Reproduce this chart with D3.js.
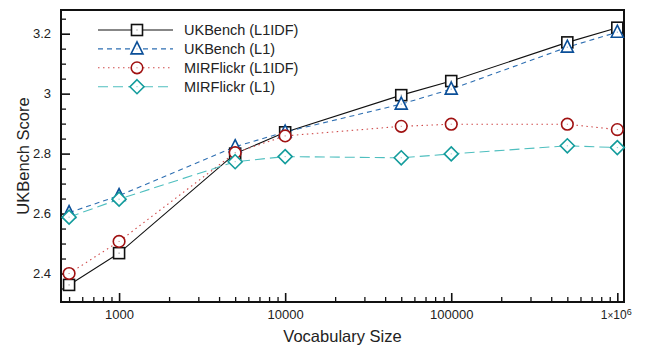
<!DOCTYPE html>
<html>
<head>
<meta charset="utf-8">
<script src="https://cdn.jsdelivr.net/npm/d3@7"></script>
<style>
  body { margin: 0; background: #fff; }
  svg text { font-family: "Liberation Sans", Arial, Helvetica, sans-serif; fill: #222; }
</style>
</head>
<body>
<svg id="chart" width="656" height="347"></svg>
<script>
// vocabulary sizes (x) and scores for each run
var vocabSizes = [500, 1000, 5000, 10000, 50000, 100000, 500000, 1000000];
var ukbenchL1IDF = [2.362, 2.468, 2.800, 2.871, 2.995, 3.042, 3.171, 3.220];
var ukbenchL1 = [2.603, 2.660, 2.823, 2.872, 2.965, 3.015, 3.155, 3.205];
var mirflickrL1IDF = [2.400, 2.507, 2.803, 2.859, 2.891, 2.898, 2.898, 2.880];
var mirflickrL1 = [2.588, 2.648, 2.773, 2.790, 2.786, 2.799, 2.826, 2.820];
var xTickLabels = ["1000", "10000", "100000", "1x10^6"];
var yTicks = [2.4, 2.6, 2.8, 3, 3.2];

var series = [
  {name: "UKBench (L1IDF)", values: ukbenchL1IDF, line: "#111", mark: "#111", dash: null, shape: "square"},
  {name: "UKBench (L1)", values: ukbenchL1, line: "#2e6fb2", mark: "#0b4f98", dash: "5,4", shape: "triangle"},
  {name: "MIRFlickr (L1IDF)", values: mirflickrL1IDF, line: "#cf4b4b", mark: "#a01212", dash: "1.5,3.5", shape: "circle"},
  {name: "MIRFlickr (L1)", values: mirflickrL1, line: "#4fbfbf", mark: "#139c9c", dash: "10,5", shape: "diamond"}
];

var margin = {top: 10, right: 32, bottom: 45, left: 61};
var width = 656 - margin.left - margin.right;
var height = 347 - margin.top - margin.bottom;

var svg = d3.select("#chart");
var g = svg.append("g").attr("transform", "translate(" + margin.left + "," + margin.top + ")");

var x = d3.scaleLog().domain([447, 1097000]).range([0, width]);
var y = d3.scaleLinear().domain([2.305, 3.279]).range([height, 0]);

// minor / major ticks on x (pointing inward)
var xMinor = [];
for (var e = 2; e <= 5; e++) {
  for (var m = 1; m <= 9; m++) {
    var v = m * Math.pow(10, e);
    if (v >= 500 && v <= 1000000) xMinor.push(v);
  }
}
var xMajor = [1000, 10000, 100000, 1000000];

g.append("g")
  .attr("transform", "translate(0," + height + ")")
  .call(d3.axisBottom(x).tickValues(xMinor.filter(function(d) { return xMajor.indexOf(d) < 0; }))
    .tickSize(-5).tickFormat(""))
  .call(function(s) { s.select(".domain").remove(); s.selectAll("line").attr("stroke", "#111").attr("stroke-width", 1.3); });

var xAxis = g.append("g")
  .attr("transform", "translate(0," + height + ")")
  .call(d3.axisBottom(x).tickValues(xMajor).tickSize(-9).tickFormat(""))
  .call(function(s) { s.select(".domain").remove(); s.selectAll("line").attr("stroke", "#111").attr("stroke-width", 1.6); });

xAxis.selectAll(".tick").each(function(d, i) {
  var t = d3.select(this).append("text")
    .attr("y", 8)
    .attr("dy", "0.71em")
    .attr("text-anchor", "middle")
    .style("font-size", "13px");
  var lab = xTickLabels[i];
  if (lab.indexOf("^") >= 0) {
    var parts = lab.split("^");
    t.attr("text-anchor", "start").attr("x", -17);
    t.append("tspan").text("1").style("font-size", "12px");
    t.append("tspan").text("\u00d7").style("font-size", "10px");
    t.append("tspan").text("10").style("font-size", "12px");
    t.append("tspan").text(parts[1]).attr("dy", "-0.45em").style("font-size", "9px");
  } else {
    t.text(lab);
  }
});

// y ticks
var yMinor = d3.range(2.35, 3.28, 0.05).filter(function(d) {
  return yTicks.every(function(t) { return Math.abs(t - d) > 0.01; });
});
g.append("g")
  .call(d3.axisLeft(y).tickValues(yMinor).tickSize(-5).tickFormat(""))
  .call(function(s) { s.select(".domain").remove(); s.selectAll("line").attr("stroke", "#111").attr("stroke-width", 1.3); });

g.append("g")
  .call(d3.axisLeft(y).tickValues(yTicks).tickSize(-9).tickPadding(10).tickFormat(d3.format("~g")))
  .call(function(s) {
    s.select(".domain").remove();
    s.selectAll("line").attr("stroke", "#111").attr("stroke-width", 1.6);
    s.selectAll("text").style("font-size", "13px").attr("fill", "#222");
  });

// frame
g.append("rect")
  .attr("width", width).attr("height", height)
  .attr("fill", "none").attr("stroke", "#111").attr("stroke-width", 2);

// axis titles
svg.append("text")
  .attr("x", margin.left + width / 2)
  .attr("y", 342)
  .attr("text-anchor", "middle")
  .style("font-size", "16.5px")
  .text("Vocabulary Size");

svg.append("text")
  .attr("transform", "translate(29," + (margin.top + height / 2) + ") rotate(-90)")
  .attr("text-anchor", "middle")
  .style("font-size", "16.5px")
  .text("UKBench Score");

function drawMarker(sel, shape, color, cx, cy) {
  var mk;
  if (shape === "square") {
    mk = sel.append("rect").attr("x", cx - 5.5).attr("y", cy - 5.5).attr("width", 11).attr("height", 11);
  } else if (shape === "circle") {
    mk = sel.append("circle").attr("cx", cx).attr("cy", cy).attr("r", 5.8);
  } else if (shape === "triangle") {
    mk = sel.append("path").attr("d", "M" + cx + "," + (cy - 7) + "L" + (cx + 6) + "," + (cy + 5) + "L" + (cx - 6) + "," + (cy + 5) + "Z");
  } else {
    mk = sel.append("path").attr("d", "M" + cx + "," + (cy - 7) + "L" + (cx + 7) + "," + cy + "L" + cx + "," + (cy + 7) + "L" + (cx - 7) + "," + cy + "Z");
  }
  mk.attr("fill", "#fff").attr("stroke", color).attr("stroke-width", 1.6);
  sel.append("rect").attr("x", cx - 0.5).attr("y", cy - 0.5).attr("width", 1).attr("height", 1).attr("fill", color).attr("opacity", 0.6);
}

var line = d3.line()
  .x(function(d, i) { return x(vocabSizes[i]); })
  .y(function(d) { return y(d); });

series.forEach(function(s) {
  g.append("path")
    .datum(s.values)
    .attr("fill", "none")
    .attr("stroke", s.line)
    .attr("stroke-width", 1.1)
    .attr("stroke-dasharray", s.dash)
    .attr("d", line);
});

series.forEach(function(s) {
  var mg = g.append("g");
  s.values.forEach(function(v, i) {
    drawMarker(mg, s.shape, s.mark, x(vocabSizes[i]), y(v));
  });
});

// legend
var legend = svg.append("g");
series.forEach(function(s, i) {
  var ly = 30 + i * 18.9;
  legend.append("line")
    .attr("x1", 98).attr("x2", 173).attr("y1", ly).attr("y2", ly)
    .attr("stroke", s.line).attr("stroke-width", 1.1)
    .attr("stroke-dasharray", s.dash);
  drawMarker(legend, s.shape, s.mark, 137, ly);
  legend.append("text")
    .attr("x", 184).attr("y", ly).attr("dy", "0.35em")
    .style("font-size", "14.5px")
    .text(s.name);
});
</script>
</body>
</html>
